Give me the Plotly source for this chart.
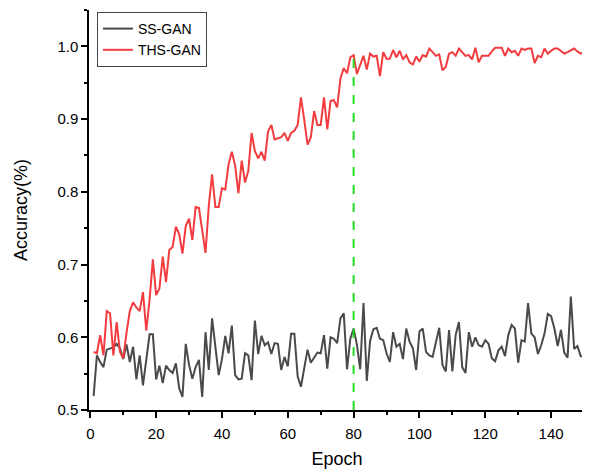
import plotly.graph_objects as go

epochs = list(range(1, 151))

ss_gan = [
    0.519, 0.575, 0.566, 0.559, 0.583, 0.584, 0.586, 0.591, 0.585, 0.570,
    0.590, 0.566, 0.587, 0.542, 0.575, 0.534, 0.568, 0.604, 0.604, 0.542,
    0.561, 0.537, 0.561, 0.555, 0.551, 0.564, 0.530, 0.518, 0.591, 0.562,
    0.543, 0.559, 0.569, 0.518, 0.607, 0.555, 0.626, 0.587, 0.548, 0.570,
    0.602, 0.578, 0.616, 0.548, 0.542, 0.543, 0.578, 0.575, 0.541, 0.623,
    0.577, 0.602, 0.589, 0.593, 0.577, 0.592, 0.591, 0.555, 0.573, 0.560,
    0.605, 0.605, 0.546, 0.532, 0.560, 0.583, 0.565, 0.572, 0.579, 0.578,
    0.603, 0.557, 0.600, 0.598, 0.592, 0.626, 0.633, 0.556, 0.598, 0.612,
    0.590, 0.556, 0.647, 0.540, 0.595, 0.611, 0.613, 0.598, 0.596, 0.578,
    0.566, 0.607, 0.587, 0.591, 0.570, 0.612, 0.594, 0.585, 0.555, 0.608,
    0.612, 0.580, 0.575, 0.573, 0.591, 0.613, 0.562, 0.553, 0.610, 0.553,
    0.603, 0.621, 0.559, 0.551, 0.607, 0.587, 0.600, 0.589, 0.587, 0.596,
    0.591, 0.571, 0.567, 0.582, 0.587, 0.574, 0.603, 0.617, 0.612, 0.565,
    0.596, 0.594, 0.647, 0.605, 0.600, 0.577, 0.589, 0.605, 0.632, 0.629,
    0.612, 0.588, 0.610, 0.579, 0.572, 0.656, 0.584, 0.588, 0.574, 0.574,
]

ths_gan = [
    0.580, 0.578, 0.603, 0.575, 0.636, 0.633, 0.575, 0.621, 0.580, 0.571,
    0.606, 0.636, 0.648, 0.641, 0.636, 0.662, 0.609, 0.651, 0.707, 0.658,
    0.667, 0.711, 0.676, 0.720, 0.724, 0.752, 0.742, 0.715, 0.753, 0.763,
    0.734, 0.779, 0.778, 0.749, 0.716, 0.781, 0.824, 0.779, 0.779, 0.805,
    0.803, 0.838, 0.855, 0.836, 0.798, 0.843, 0.813, 0.829, 0.881, 0.856,
    0.846, 0.855, 0.843, 0.883, 0.892, 0.872, 0.873, 0.875, 0.881, 0.870,
    0.881, 0.884, 0.892, 0.930, 0.899, 0.865, 0.875, 0.911, 0.892, 0.892,
    0.930, 0.886, 0.925, 0.926, 0.916, 0.956, 0.970, 0.963, 0.985, 0.988,
    0.962, 0.975, 0.987, 0.968, 0.990, 0.986, 0.987, 0.959, 0.992, 0.983,
    0.983, 0.995, 0.985, 0.994, 0.982, 0.988, 0.978, 0.975, 0.986, 0.979,
    0.988, 0.986, 0.997, 0.992, 0.987, 0.989, 0.967, 0.972, 0.990, 0.992,
    0.987, 0.997, 0.992, 0.987, 0.988, 0.982, 0.998, 0.978, 0.987, 0.987,
    0.987, 0.993, 0.998, 0.998, 0.998, 0.987, 0.997, 0.992, 0.994, 0.987,
    0.997, 0.995, 0.997, 0.997, 0.977, 0.987, 0.985, 0.997, 0.990, 0.994,
    0.997, 0.997, 0.994, 0.990, 0.992, 0.994, 0.997, 0.993, 0.990, 0.992,
]

marker_epoch = 80
marker_y = [0.5, ths_gan[marker_epoch - 1]]

x_ticks = [0, 20, 40, 60, 80, 100, 120, 140]
y_ticks = [0.5, 0.6, 0.7, 0.8, 0.9, 1.0]
y_tick_labels = ["0.5", "0.6", "0.7", "0.8", "0.9", "1.0"]

fig = go.Figure()
fig.add_trace(go.Scatter(x=epochs, y=ss_gan, mode="lines", name="SS-GAN",
                         line=dict(color="#4a4a4a", width=2)))
fig.add_trace(go.Scatter(x=epochs, y=ths_gan, mode="lines", name="THS-GAN",
                         line=dict(color="#f23c3f", width=2)))
fig.add_trace(go.Scatter(x=[marker_epoch, marker_epoch], y=marker_y, mode="lines",
                         showlegend=False,
                         line=dict(color="#22dd22", width=2, dash="dash")))

FONT = "Arial, Liberation Sans, sans-serif"
axis_font = dict(family=FONT, size=15, color="black")

# page body has an 8px margin, so the figure is sized to fit inside the 590x472 window
fig.update_layout(
    width=582, height=464,
    margin=dict(l=81, r=5, t=2, b=62),
    paper_bgcolor="white", plot_bgcolor="white",
    font=axis_font,
    showlegend=True,
    legend=dict(x=0.016, y=0.995, xanchor="left", yanchor="top",
                bordercolor="#444", borderwidth=1, bgcolor="white",
                font=dict(family=FONT, size=14, color="black"),
                tracegroupgap=0, itemwidth=30),
    xaxis=dict(
        range=[-0.4, 150.3], tickvals=x_ticks, ticktext=[str(v) for v in x_ticks],
        showgrid=False, zeroline=False, showline=True, linecolor="black", linewidth=1.5,
        ticks="outside", ticklen=6, tickwidth=1.5, tickcolor="black",
        ticklabelstandoff=3,
        minor=dict(tickvals=[10, 30, 50, 70, 90, 110, 130, 150], ticks="outside",
                   ticklen=3, tickwidth=1.5, tickcolor="black"),
        title=dict(text="Epoch", font=dict(family=FONT, size=18), standoff=12),
        tickfont=axis_font,
    ),
    yaxis=dict(
        range=[0.5, 1.05], tickvals=y_ticks, ticktext=y_tick_labels,
        showgrid=False, zeroline=False, showline=True, linecolor="black", linewidth=1.5,
        ticks="outside", ticklen=6, tickwidth=1.5, tickcolor="black",
        minor=dict(tickvals=[0.55, 0.65, 0.75, 0.85, 0.95, 1.05], ticks="outside",
                   ticklen=3, tickwidth=1.5, tickcolor="black"),
        title=dict(text="Accuracy(%)", font=dict(family=FONT, size=18), standoff=25),
        tickfont=axis_font,
    ),
)

fig.write_html("out.html")
